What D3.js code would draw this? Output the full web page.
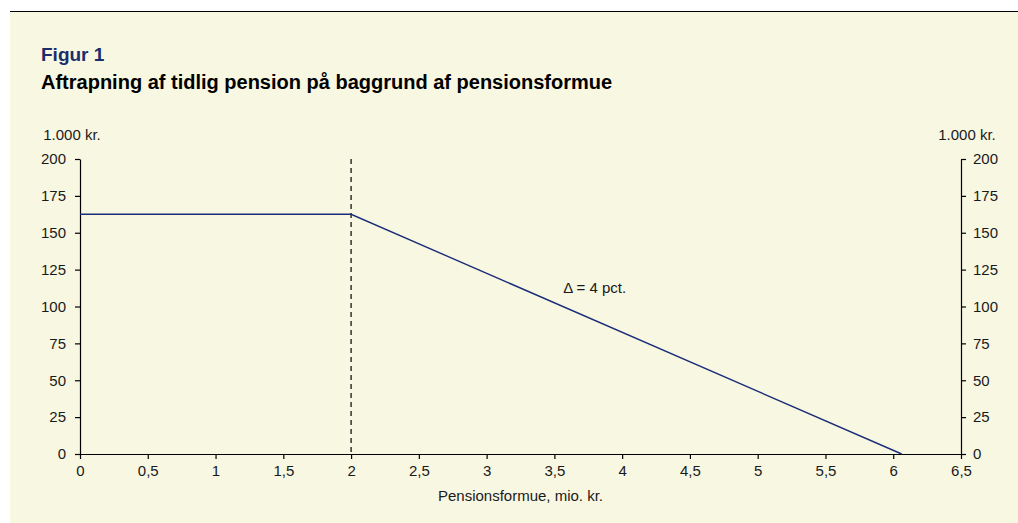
<!DOCTYPE html>
<html><head><meta charset="utf-8">
<script src="https://cdn.jsdelivr.net/npm/d3@7"></script>
<style>
html,body{margin:0;padding:0;background:#fff;}
svg{display:block;}
text{font-family:Arial,"Liberation Sans",Helvetica,sans-serif;}
</style></head>
<body>
<svg id="chart" width="1018" height="523"></svg>
<script>
// Data
const pensionX = [0, 2, 6.0625];          // mio. kr.
const pensionY = [162.5, 162.5, 0];       // 1.000 kr.
const xTicks = [0, 0.5, 1, 1.5, 2, 2.5, 3, 3.5, 4, 4.5, 5, 5.5, 6, 6.5];
const yTicks = [0, 25, 50, 75, 100, 125, 150, 175, 200];
const thresholdX = [2];
const annotation = ["Δ = 4 pct."];
const annotationPos = [3.565, 109]; // data coords (x, y)

const svg = d3.select("#chart");
const W = 1018, H = 523;
const bg = "#f8f7e2";

svg.append("rect").attr("x", 10).attr("y", 12).attr("width", W - 10).attr("height", H - 12).attr("fill", bg);
svg.append("line").attr("x1", 10).attr("x2", W).attr("y1", 11.5).attr("y2", 11.5).attr("stroke", "#000").attr("stroke-width", 1.2);

svg.append("text").attr("x", 41).attr("y", 61).attr("font-size", 19).attr("font-weight", "bold").attr("fill", "#1b2d6b").text("Figur 1");
svg.append("text").attr("x", 41).attr("y", 89).attr("font-size", 20).attr("font-weight", "bold").attr("fill", "#000").text("Aftrapning af tidlig pension på baggrund af pensionsformue");

const m = {l: 80, r: 961, t: 159, b: 454};
const x = d3.scaleLinear().domain([0, 6.5]).range([m.l, m.r]);
const y = d3.scaleLinear().domain([0, 200]).range([m.b, m.t]);
const fmt = d => d3.format("")(d).replace(".", ",");

function styleAxis(g) {
  g.selectAll("path").attr("stroke", "#000").attr("stroke-width", 1.2);
  g.selectAll("line").attr("stroke", "#000").attr("stroke-width", 1.2);
  g.selectAll("text").attr("font-size", 15).attr("fill", "#1a1a1a").attr("font-family", "Arial, 'Liberation Sans', sans-serif");
}

const gx = svg.append("g").attr("transform", `translate(0,${m.b})`)
  .call(d3.axisBottom(x).tickValues(xTicks).tickFormat(fmt).tickSizeInner(5).tickSizeOuter(0).tickPadding(6));
styleAxis(gx);

const gl = svg.append("g").attr("transform", `translate(${m.l},0)`)
  .call(d3.axisLeft(y).tickValues(yTicks).tickSizeInner(5).tickSizeOuter(0).tickPadding(9));
styleAxis(gl);

const gr = svg.append("g").attr("transform", `translate(${m.r},0)`)
  .call(d3.axisRight(y).tickValues(yTicks).tickSizeInner(5).tickSizeOuter(0).tickPadding(7));
styleAxis(gr);

svg.append("text").attr("x", 72).attr("y", 140).attr("text-anchor", "middle").attr("font-size", 15).attr("fill", "#1a1a1a").text("1.000 kr.");
svg.append("text").attr("x", 967).attr("y", 140).attr("text-anchor", "middle").attr("font-size", 15).attr("fill", "#1a1a1a").text("1.000 kr.");

svg.append("text").attr("x", (m.l + m.r) / 2).attr("y", 501).attr("text-anchor", "middle").attr("font-size", 15).attr("fill", "#1a1a1a").text("Pensionsformue, mio. kr.");

// threshold dashed line
svg.selectAll(".thr").data(thresholdX).enter().append("line")
  .attr("x1", d => x(d)).attr("x2", d => x(d)).attr("y1", y(200)).attr("y2", y(0))
  .attr("stroke", "#000").attr("stroke-width", 1.2).attr("stroke-dasharray", "5,4");

const pts = pensionX.map((d, i) => [d, pensionY[i]]);
svg.append("path").datum(pts)
  .attr("d", d3.line().x(d => x(d[0])).y(d => y(d[1])))
  .attr("fill", "none").attr("stroke", "#1b2d78").attr("stroke-width", 1.4);

svg.append("text").attr("x", x(annotationPos[0])).attr("y", y(annotationPos[1]))
  .attr("font-size", 15).attr("fill", "#1a1a1a").text(annotation[0]);
</script>
</body></html>
